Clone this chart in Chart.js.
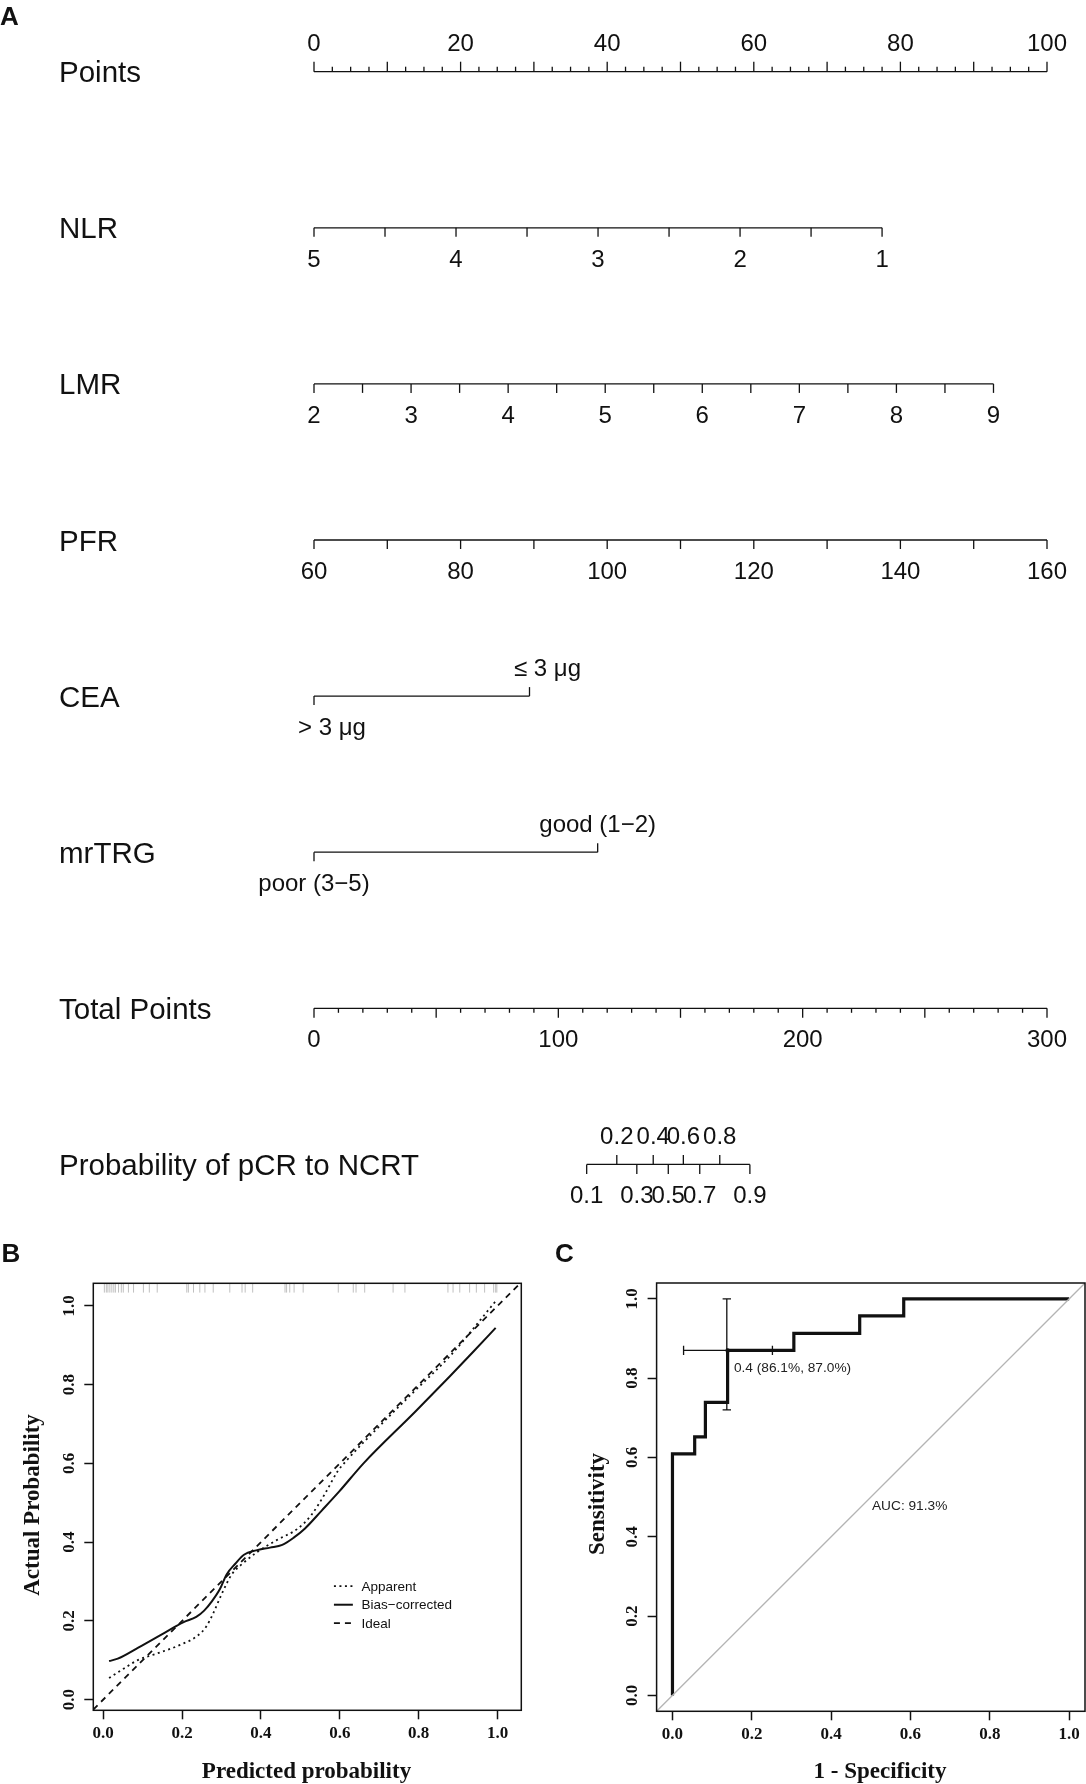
<!DOCTYPE html>
<html lang="en">
<head>
<meta charset="UTF-8"/>
<title>Nomogram, calibration curve and ROC curve</title>
<script src="https://cdn.jsdelivr.net/npm/chart.js@4.4.7/dist/chart.umd.min.js"></script>
<style>
*{box-sizing:border-box;margin:0;padding:0}
body{background:#fff;width:1086px;height:1784px;position:relative;overflow:hidden}
canvas{position:absolute;display:block}
</style>
</head>
<body>
<canvas id="nomo"  width="1086" height="1240" style="left:0;top:0"></canvas>
<canvas id="calib" width="543"  height="554"  style="left:0;top:1230px"></canvas>
<canvas id="roc"   width="543"  height="554"  style="left:543px;top:1230px"></canvas>
<script>
const INK   = '#111';
const SANS  = "'Liberation Sans', Arial, sans-serif";
const SERIF = "'Liberation Serif', 'Times New Roman', serif";

function range(a, b, step) {
  const out = [];
  for (let v = a; v <= b + 1e-9; v += step) out.push(+v.toFixed(4));
  return out;
}

// ---------------- A: nomogram ----------------
const rowNames = ['Points', 'NLR', 'LMR', 'PFR', 'CEA', 'mrTRG', 'Total Points', 'Probability of pCR to NCRT'];

const pointsMajor  = range(0, 100, 10);
const pointsMinor  = range(0, 100, 2.5).filter((v) => v % 10 !== 0);
const pointsLabels = [0, 20, 40, 60, 80, 100];

const nlrTicks  = [5, 4.5, 4, 3.5, 3, 2.5, 2, 1.5, 1];
const nlrLabels = [5, 4, 3, 2, 1];
const nlrRange  = [5, 1];
const nlrPoints = [0, 77.5];

const lmrTicks  = [2, 2.5, 3, 3.5, 4, 4.5, 5, 5.5, 6, 6.5, 7, 7.5, 8, 8.5, 9];
const lmrLabels = [2, 3, 4, 5, 6, 7, 8, 9];
const lmrRange  = [2, 9];
const lmrPoints = [0, 92.7];

const pfrTicks  = [60, 70, 80, 90, 100, 110, 120, 130, 140, 150, 160];
const pfrLabels = [60, 80, 100, 120, 140, 160];
const pfrRange  = [60, 160];
const pfrPoints = [0, 100];

const ceaLevels = ['> 3 μg', '≤ 3 μg'];
const ceaPoints = [0, 29.4];

const trgLevels = ['poor (3−5)', 'good (1−2)'];
const trgPoints = [0, 38.7];

const totalMajor  = [0, 50, 100, 150, 200, 250, 300];
const totalMinor  = range(0, 300, 10).filter((v) => v % 50 !== 0);
const totalLabels = [0, 100, 200, 300];

const probTicks    = [0.1, 0.2, 0.3, 0.4, 0.5, 0.6, 0.7, 0.8, 0.9];
const probAtHalf   = 145;   // total points where probability = 0.5
const probPerLogit = 15.2;  // total points per logit unit

const lin = (vr, pr) => (v) => pr[0] + (v - vr[0]) * (pr[1] - pr[0]) / (vr[1] - vr[0]);
const nlrPts = lin(nlrRange, nlrPoints);
const lmrPts = lin(lmrRange, lmrPoints);
const pfrPts = lin(pfrRange, pfrPoints);
const probTP = (p) => probAtHalf + probPerLogit * Math.log(p / (1 - p));

const UP = -1, DOWN = 1;
const tk = (at, len, side) => ({ at, len, side });
const lb = (at, text, side, dx = 0) => ({ at, text: String(text), side, dx });

const nomoRows = [
  { axis: 'x', line: [0, 100],
    ticks: [...pointsMinor.map((v) => tk(v, 5, UP)), ...pointsMajor.map((v) => tk(v, 10, UP))],
    labels: pointsLabels.map((v) => lb(v, v, UP)) },
  { axis: 'x', line: [nlrPts(nlrRange[0]), nlrPts(nlrRange[1])],
    ticks: nlrTicks.map((v) => tk(nlrPts(v), 9, DOWN)),
    labels: nlrLabels.map((v) => lb(nlrPts(v), v, DOWN)) },
  { axis: 'x', line: [lmrPts(lmrRange[0]), lmrPts(lmrRange[1])],
    ticks: lmrTicks.map((v) => tk(lmrPts(v), 9, DOWN)),
    labels: lmrLabels.map((v) => lb(lmrPts(v), v, DOWN)) },
  { axis: 'x', line: [pfrPts(pfrRange[0]), pfrPts(pfrRange[1])],
    ticks: pfrTicks.map((v) => tk(pfrPts(v), 9, DOWN)),
    labels: pfrLabels.map((v) => lb(pfrPts(v), v, DOWN)) },
  { axis: 'x', line: ceaPoints,
    ticks: ceaPoints.map((p, i) => tk(p, 9, i ? UP : DOWN)),
    labels: ceaLevels.map((t, i) => lb(ceaPoints[i], t, i ? UP : DOWN, 18)) },
  { axis: 'x', line: trgPoints,
    ticks: trgPoints.map((p, i) => tk(p, 9, i ? UP : DOWN)),
    labels: trgLevels.map((t, i) => lb(trgPoints[i], t, i ? UP : DOWN)) },
  { axis: 'xTotal', line: [0, 300],
    ticks: [...totalMinor.map((v) => tk(v, 4.5, DOWN)), ...totalMajor.map((v) => tk(v, 9.5, DOWN))],
    labels: totalLabels.map((v) => lb(v, v, DOWN)) },
  { axis: 'xTotal', line: [probTP(probTicks[0]), probTP(probTicks[probTicks.length - 1])],
    ticks: probTicks.map((p, i) => tk(probTP(p), 9.5, i % 2 ? UP : DOWN)),
    labels: probTicks.map((p, i) => lb(probTP(p), p, i % 2 ? UP : DOWN)) },
];

const nomogramPlugin = {
  id: 'nomogram',
  afterDatasetsDraw(chart) {
    const { ctx, scales: { y } } = chart;
    ctx.save();
    ctx.strokeStyle = INK;
    ctx.fillStyle = INK;
    ctx.lineWidth = 1.3;
    ctx.textBaseline = 'alphabetic';
    nomoRows.forEach((row, i) => {
      const sc = chart.scales[row.axis];
      const py = y.getPixelForValue(i);
      row.ticks.forEach((t) => {
        const px = sc.getPixelForValue(t.at);
        ctx.beginPath();
        ctx.moveTo(px, py);
        ctx.lineTo(px, py + t.side * t.len);
        ctx.stroke();
      });
      ctx.font = `24px ${SANS}`;
      ctx.textAlign = 'center';
      row.labels.forEach((l) => {
        const px = sc.getPixelForValue(l.at) + l.dx;
        ctx.fillText(l.text, px, l.side === UP ? py - 20.5 : py + 38.7);
      });
      ctx.font = `29.5px ${SANS}`;
      ctx.textAlign = 'left';
      ctx.fillText(rowNames[i], 59, py + 10.5);
    });
    ctx.font = `bold 26px ${SANS}`;
    ctx.fillText('A', 0, 25);
    ctx.restore();
  }
};

new Chart(document.getElementById('nomo'), {
  type: 'scatter',
  data: {
    datasets: nomoRows.map((r, i) => ({
      data: [{ x: r.line[0], y: i }, { x: r.line[1], y: i }],
      xAxisID: r.axis,
      showLine: true,
      borderColor: INK,
      borderWidth: 1.3,
      pointRadius: 0,
      clip: false,
    }))
  },
  options: {
    responsive: false, animation: false, events: [],
    layout: { padding: { left: 314, right: 39, top: 71.7, bottom: 75.6 } },
    scales: {
      x:      { type: 'linear', min: 0, max: 100, display: false },
      xTotal: { type: 'linear', axis: 'x', min: 0, max: 300, display: false },
      y:      { type: 'linear', min: 0, max: 7, reverse: true, display: false },
    },
    plugins: { legend: { display: false }, tooltip: { enabled: false } }
  },
  plugins: [nomogramPlugin]
});

// ---------------- shared R-style axes ----------------
const unitTicks = [0, 0.2, 0.4, 0.6, 0.8, 1.0];

function rAxes(min, max, yMin, yMax, yWidth, xHeight) {
  const grid = { drawOnChartArea: false, drawTicks: true, tickLength: 9, tickWidth: 1.5, tickColor: INK };
  return {
    x: {
      type: 'linear', min, max,
      afterBuildTicks: (s) => { s.ticks = unitTicks.map((v) => ({ value: v })); },
      afterFit: (s) => { s.height = xHeight; },
      grid, border: { display: false },
      ticks: { color: INK, padding: 4, maxRotation: 0, font: { family: SERIF, size: 17, weight: 'bold' },
               callback: (v) => Number(v).toFixed(1) }
    },
    y: {
      type: 'linear', min: yMin, max: yMax,
      afterBuildTicks: (s) => { s.ticks = unitTicks.map((v) => ({ value: v })); },
      afterFit: (s) => { s.width = yWidth; },
      grid, border: { display: false },
      ticks: { display: false }
    }
  };
}

const rFrame = {
  id: 'rFrame',
  afterDraw(chart, args, o) {
    const { ctx, chartArea: a, scales: { y } } = chart;
    ctx.save();
    ctx.strokeStyle = INK;
    ctx.fillStyle = INK;
    ctx.lineWidth = 1.5;
    ctx.strokeRect(a.left, a.top, a.right - a.left, a.bottom - a.top);
    ctx.textAlign = 'center';
    ctx.textBaseline = 'alphabetic';
    ctx.font = `bold 17px ${SERIF}`;
    y.ticks.forEach((t) => {
      ctx.save();
      ctx.translate(o.yLabelX, y.getPixelForValue(t.value));
      ctx.rotate(-Math.PI / 2);
      ctx.fillText(t.value.toFixed(1), 0, 0);
      ctx.restore();
    });
    ctx.font = `bold 23px ${SERIF}`;
    ctx.fillText(o.xTitle, o.xTitleX, o.xTitleY);
    ctx.save();
    ctx.translate(o.yTitleX, o.yTitleY);
    ctx.rotate(-Math.PI / 2);
    ctx.fillText(o.yTitle, 0, 0);
    ctx.restore();
    ctx.font = `bold 26px ${SANS}`;
    ctx.textAlign = 'left';
    ctx.fillText(o.tag, o.tagX, 31.5);
    ctx.restore();
  }
};

// ---------------- B: calibration ----------------
const appX  = [0.015, 0.054, 0.089, 0.133, 0.195, 0.239, 0.261, 0.278, 0.300, 0.326, 0.353, 0.388, 0.440, 0.493, 0.528, 0.563, 0.594, 0.616, 0.704, 0.791, 0.879, 0.997];
const appY  = [0.055, 0.080, 0.101, 0.116, 0.139, 0.162, 0.185, 0.217, 0.267, 0.318, 0.345, 0.373, 0.405, 0.434, 0.469, 0.524, 0.579, 0.606, 0.698, 0.785, 0.872, 1.014];
const biasX = [0.015, 0.037, 0.089, 0.142, 0.177, 0.204, 0.236, 0.256, 0.275, 0.296, 0.313, 0.335, 0.357, 0.388, 0.423, 0.454, 0.484, 0.511, 0.554, 0.598, 0.660, 0.791, 0.879, 0.940, 0.995];
const biasY = [0.098, 0.104, 0.132, 0.162, 0.182, 0.197, 0.210, 0.226, 0.249, 0.281, 0.318, 0.345, 0.368, 0.379, 0.386, 0.393, 0.412, 0.434, 0.480, 0.528, 0.600, 0.731, 0.821, 0.885, 0.944];
const idealX = [-0.025, 1.057];
const rugX = [0.003, 0.008, 0.012, 0.017, 0.022, 0.027, 0.031, 0.039, 0.046, 0.051, 0.064, 0.077, 0.102, 0.117, 0.137,
              0.212, 0.216, 0.229, 0.245, 0.258, 0.279, 0.321, 0.352, 0.360, 0.379,
              0.461, 0.465, 0.473, 0.484, 0.507, 0.596, 0.634, 0.641, 0.663, 0.735, 0.765,
              0.874, 0.887, 0.904, 0.929, 0.946, 0.967, 0.990, 0.995, 0.998];

const pts = (xs, ys) => xs.map((x, i) => ({ x, y: ys[i] }));

const calibExtras = {
  id: 'calibExtras',
  afterDatasetsDraw(chart) {
    const { ctx, chartArea: a, scales: { x, y } } = chart;
    ctx.save();
    ctx.strokeStyle = '#c0c0c0';
    ctx.lineWidth = 1;
    rugX.forEach((v) => {
      const px = x.getPixelForValue(v);
      ctx.beginPath(); ctx.moveTo(px, a.top); ctx.lineTo(px, a.top + 9.3); ctx.stroke();
    });
    // legend
    const lx0 = x.getPixelForValue(0.585), lx1 = x.getPixelForValue(0.633), tx = x.getPixelForValue(0.655);
    const ly = y.getPixelForValue(0.288);
    ctx.font = `13.5px ${SANS}`;
    ctx.fillStyle = INK;
    ctx.textBaseline = 'middle';
    chart.data.datasets.forEach((d, i) => {
      const yy = ly + i * 18.5;
      ctx.strokeStyle = d.borderColor;
      ctx.lineWidth = d.borderWidth;
      ctx.setLineDash(d.borderDash || []);
      ctx.beginPath(); ctx.moveTo(lx0, yy); ctx.lineTo(lx1, yy); ctx.stroke();
      ctx.fillText(d.label, tx, yy + 1);
    });
    ctx.restore();
  }
};

new Chart(document.getElementById('calib'), {
  type: 'scatter',
  data: {
    datasets: [
      { label: 'Apparent', data: pts(appX, appY), showLine: true, borderColor: INK, borderWidth: 1.8,
        borderDash: [2, 3.5], pointRadius: 0, cubicInterpolationMode: 'monotone' },
      { label: 'Bias−corrected', data: pts(biasX, biasY), showLine: true, borderColor: INK, borderWidth: 2,
        pointRadius: 0, cubicInterpolationMode: 'monotone' },
      { label: 'Ideal', data: pts(idealX, idealX), showLine: true, borderColor: INK, borderWidth: 1.8,
        borderDash: [6, 5], pointRadius: 0 },
    ]
  },
  options: {
    responsive: false, animation: false, events: [],
    layout: { padding: { left: 0, top: 53.3, right: 21.7, bottom: 0 } },
    scales: rAxes(-0.025, 1.06, -0.027, 1.057, 93.3, 73.7),
    plugins: {
      legend: { display: false }, tooltip: { enabled: false },
      rFrame: { tag: 'B', tagX: 1.5, yLabelX: 74, xTitle: 'Predicted probability', xTitleX: 306.5, xTitleY: 548,
                yTitle: 'Actual Probability', yTitleX: 39, yTitleY: 275 }
    }
  },
  plugins: [calibExtras, rFrame]
});

// ---------------- C: ROC ----------------
const rocFpr = [0, 0, 0.056, 0.056, 0.083, 0.083, 0.139, 0.139, 0.306, 0.306, 0.472, 0.472, 0.583, 0.583, 1];
const rocTpr = [0, 0.609, 0.609, 0.652, 0.652, 0.739, 0.739, 0.870, 0.870, 0.913, 0.913, 0.957, 0.957, 1, 1];
const chanceX = [-0.04, 1.04];
const thresh = { fpr: 0.139, tpr: 0.870, text: '0.4 (86.1%, 87.0%)' };
const spCI = [0.028, 0.252];  // 1 - specificity interval at threshold
const seCI = [0.720, 1.000];  // sensitivity interval at threshold
const aucText = 'AUC: 91.3%';

const rocExtras = {
  id: 'rocExtras',
  afterDatasetsDraw(chart) {
    const { ctx, scales: { x, y } } = chart;
    const px = (v) => x.getPixelForValue(v), py = (v) => y.getPixelForValue(v);
    ctx.save();
    ctx.strokeStyle = INK;
    ctx.fillStyle = INK;
    ctx.lineWidth = 1.3;
    const yT = py(thresh.tpr), xS = px(0.137);
    ctx.beginPath();
    ctx.moveTo(px(spCI[0]), yT); ctx.lineTo(px(spCI[1]), yT);
    spCI.forEach((v) => { ctx.moveTo(px(v), yT - 4.7); ctx.lineTo(px(v), yT + 4.7); });
    ctx.moveTo(xS, py(seCI[0])); ctx.lineTo(xS, py(seCI[1]));
    seCI.forEach((v) => { ctx.moveTo(xS - 4.2, py(v)); ctx.lineTo(xS + 4.2, py(v)); });
    ctx.stroke();
    ctx.beginPath(); ctx.arc(px(thresh.fpr), yT, 2.2, 0, Math.PI * 2); ctx.fill();
    ctx.font = `13.7px ${SANS}`;
    ctx.fillStyle = '#222';
    ctx.textAlign = 'left';
    ctx.textBaseline = 'middle';
    ctx.fillText(thresh.text, px(0.155), py(0.826));
    ctx.fillText(aucText, px(0.503), py(0.478));
    ctx.restore();
  }
};

new Chart(document.getElementById('roc'), {
  type: 'scatter',
  data: {
    datasets: [
      { label: 'chance', data: pts(chanceX, chanceX), showLine: true, borderColor: '#b4b4b4', borderWidth: 1.3, pointRadius: 0 },
      { label: 'ROC', data: pts(rocFpr, rocTpr), showLine: true, borderColor: INK, borderWidth: 3.2, pointRadius: 0,
        borderJoinStyle: 'miter', borderCapStyle: 'butt' },
    ]
  },
  options: {
    responsive: false, animation: false, events: [],
    layout: { padding: { left: 0, top: 53, right: 1, bottom: 0 } },
    scales: rAxes(-0.04, 1.04, -0.04, 1.04, 113.6, 72.7),
    plugins: {
      legend: { display: false }, tooltip: { enabled: false },
      rFrame: { tag: 'C', tagX: 12, yLabelX: 93.7, xTitle: '1 - Specificity', xTitleX: 337, xTitleY: 548,
                yTitle: 'Sensitivity', yTitleX: 60.5, yTitleY: 274 }
    }
  },
  plugins: [rocExtras, rFrame]
});
</script>
</body>
</html>
